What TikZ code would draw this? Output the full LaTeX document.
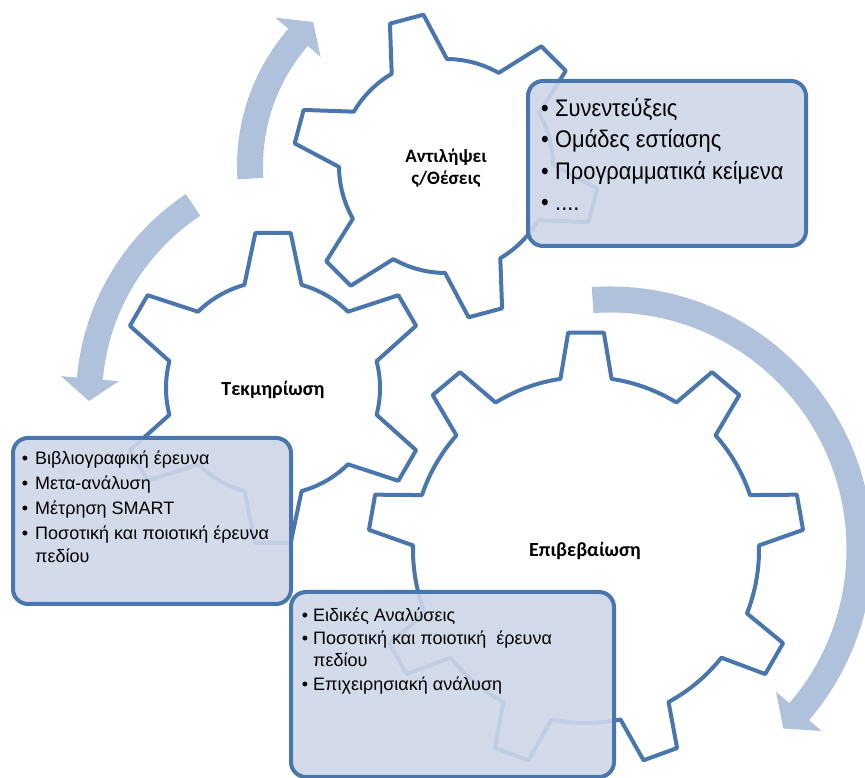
\documentclass[tikz,border=0pt]{standalone}
\usepackage{fontspec}
\setmainfont{Liberation Sans}
\newfontfamily\gearfont{Carlito}
\newfontfamily\narrowfont{Liberation Sans}[FakeStretch=0.91]
\definecolor{gearblue}{HTML}{4A76AE}
\definecolor{arrowblue}{HTML}{B0C1DC}
\definecolor{boxfill}{HTML}{CED7E8}
\tikzset{
  gear/.style={draw=gearblue, fill=white, line width=4pt, line join=round},
  arrowband/.style={fill=arrowblue},
  infobox/.style={draw=gearblue, fill=boxfill, fill opacity=0.9, draw opacity=1,
    line width=4pt, rounded corners=15pt, inner sep=0pt, anchor=north west},
  bigtext/.style={inner sep=0pt, anchor=base west, font=\narrowfont\fontsize{24}{28}\selectfont},
  bigbullet/.style={inner sep=0pt, anchor=base, font=\narrowfont\fontsize{24}{28}\selectfont},
  smalltext/.style={inner sep=0pt, anchor=base west, font=\fontsize{18}{22}\selectfont},
  smallbullet/.style={inner sep=0pt, anchor=base, font=\fontsize{18}{22}\selectfont},
  gearlabel/.style={inner sep=0pt, anchor=base, font=\gearfont\bfseries\fontsize{19}{22}\selectfont},
  biglabel/.style={gearlabel, font=\gearfont\bfseries\fontsize{20}{24}\selectfont},
}
% cx, cy, teeth, rotation, root radius, tip radius, root half-angle, tip half-angle
\newcommand{\drawgear}[8]{%
  \pgfmathsetmacro\gstep{360/#3}%
  \pgfmathtruncatemacro\glast{#3-1}%
  \begin{scope}[shift={(#1,#2)}]
    \draw[gear] ({#4-#7}:#5)
      \foreach \k in {0,...,\glast}{
        -- ({#4+\k*\gstep-#8}:#6) -- ({#4+\k*\gstep+#8}:#6)
        -- ({#4+\k*\gstep+#7}:#5)
        arc[start angle={#4+\k*\gstep+#7}, end angle={#4+(\k+1)*\gstep-#7}, radius=#5]
      } -- cycle;
  \end{scope}}
% cx, cy, r in, r out, tail angle, head angle, barb in, barb out, tip angle
\newcommand{\drawarrow}[9]{%
  \pgfmathsetmacro\rmid{(#3+#4)/2}%
  \begin{scope}[shift={(#1,#2)}]
    \fill[arrowband] (#5:#4) arc[start angle=#5, end angle=#6, radius=#4]
      -- (#6:#8) -- (#9:\rmid) -- (#6:#7) -- (#6:#3)
      arc[start angle=#6, end angle=#5, radius=#3] -- cycle;
  \end{scope}}
\begin{document}
\begin{tikzpicture}[x=1pt,y=1pt]
\useasboundingbox (0,0) rectangle (865,778);
\clip (0,0) rectangle (865,778);
% circular arrows
\drawarrow{446}{612}{183}{209}{183.7}{139}{166}{226}{132.7}
\drawarrow{322}{379}{220}{246}{123.6}{175}{204}{262}{180.5}
\drawarrow{610}{229}{236.5}{262.5}{94}{-40.7}{219}{279}{-46}
% gears
\drawgear{446}{612}{6}{105}{107}{153}{15.5}{6.5}
\drawgear{273}{390}{6}{90}{107}{156}{15.5}{6.5}
\drawgear{586}{228}{9}{10}{173}{218}{8.5}{4.7}
% gear labels
\node[gearlabel] (g1a) at (446,615) {Αντιλήψει};
\node[gearlabel] (g1b) at (446,593) {ς/Θέσεις};
\node[biglabel] (g2) at (273,382) {Τεκμηρίωση};
\node[biglabel] (g3) at (585,221) {Επιβεβαίωση};
% boxes
\node[infobox, minimum width=278pt, minimum height=165pt] (box1) at (526,699) {};
\node[infobox, minimum width=278pt, minimum height=166pt] (box2) at (11,342) {};
\node[infobox, minimum width=323pt, minimum height=185pt] (box3) at (289,188) {};
% box 1 text
\node[bigbullet] (b1d1) at (545,661) {•};
\node[bigtext] (b1t1) at (555,661) {Συνεντεύξεις};
\node[bigbullet] (b1d2) at (545,630) {•};
\node[bigtext] (b1t2) at (555,630) {Ομάδες εστίασης};
\node[bigbullet] (b1d3) at (545,598) {•};
\node[bigtext] (b1t3) at (555,598) {Προγραμματικά κείμενα};
\node[bigbullet] (b1d4) at (545,567) {•};
\node[bigtext] (b1t4) at (555,567) {....};
% box 2 text
\node[smallbullet] (b2d1) at (25,313) {•};
\node[smalltext] (b2t1) at (35,313) {Βιβλιογραφική έρευνα};
\node[smallbullet] (b2d2) at (25,288) {•};
\node[smalltext] (b2t2) at (35,288) {Μετα-ανάλυση};
\node[smallbullet] (b2d3) at (25,263) {•};
\node[smalltext] (b2t3) at (35,263) {Μέτρηση SMART};
\node[smallbullet] (b2d4) at (25,238) {•};
\node[smalltext] (b2t4) at (35,238) {Ποσοτική και ποιοτική έρευνα};
\node[smalltext] (b2t5) at (35,215) {πεδίου};
% box 3 text
\node[smallbullet] (b3d1) at (305,156) {•};
\node[smalltext] (b3t1) at (313,156) {Ειδικές Αναλύσεις};
\node[smallbullet] (b3d2) at (305,133) {•};
\node[smalltext] (b3t2) at (313,133) {Ποσοτική και ποιοτική\ \ έρευνα};
\node[smalltext] (b3t3) at (313,111) {πεδίου};
\node[smallbullet] (b3d4) at (305,87) {•};
\node[smalltext] (b3t4) at (313,87) {Επιχειρησιακή ανάλυση};
\end{tikzpicture}
\end{document}
